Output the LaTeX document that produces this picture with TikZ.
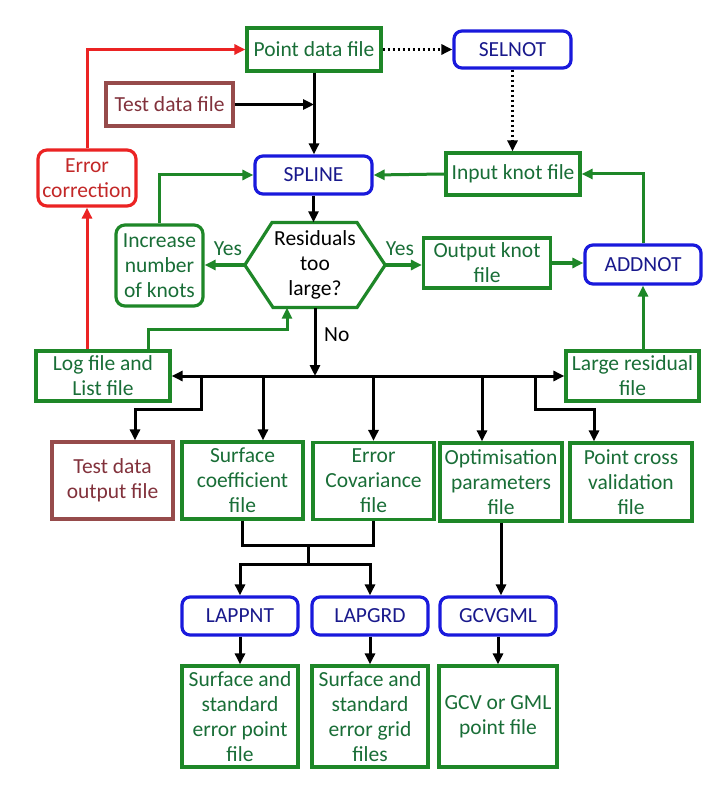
\documentclass[tikz,border=0pt]{standalone}
\usepackage{fontspec}
\setmainfont{Carlito}
\usetikzlibrary{arrows.meta}
\definecolor{gborder}{RGB}{30,135,40}
\definecolor{gtext}{RGB}{25,110,55}
\definecolor{bborder}{RGB}{25,25,220}
\definecolor{btext}{RGB}{25,25,140}
\definecolor{rborder}{RGB}{235,35,35}
\definecolor{rtext}{RGB}{195,40,40}
\definecolor{brborder}{RGB}{150,75,75}
\definecolor{brtext}{RGB}{130,50,60}
\tikzset{
  every node/.style={font=\fontsize{21.5}{25}\selectfont, inner sep=0pt, align=center},
  gbox/.style={draw=gborder, text=gtext, line width=3.2pt},
  bbox/.style={draw=bborder, text=btext, line width=3.2pt, rounded corners=8pt},
  rbox/.style={draw=rborder, text=rtext, line width=3.2pt, rounded corners=9pt},
  brbox/.style={draw=brborder, text=brtext, line width=3.2pt},
  tip/.style={-{Triangle[length=11pt,width=10pt]}},
  kline/.style={draw=black, line width=3pt},
  karrow/.style={kline, tip},
  garrow/.style={draw=gborder, line width=3pt, tip},
  rarrow/.style={draw=rborder, line width=3pt, tip},
}
\begin{document}
\begin{tikzpicture}[x=1pt,y=-1pt]
\useasboundingbox[fill=white] (0,0) rectangle (727,791);
% nodes
\node[gbox, minimum width=134pt, minimum height=43pt] (pdf) at (314,49.5) {Point data file};
\node[bbox, minimum width=117pt, minimum height=37pt] (selnot) at (512.5,49.5) {SELNOT};
\node[brbox, minimum width=127pt, minimum height=43pt] (tdf) at (169.5,104.5) {Test data file};
\node[rbox, minimum width=98pt, minimum height=56pt] (errc) at (87,178) {Error\\correction};
\node[bbox, minimum width=117pt, minimum height=38pt] (spline) at (313.5,175) {SPLINE};
\node[gbox, minimum width=134pt, minimum height=42pt] (ikf) at (513,174) {Input knot file};
\node[gbox, rounded corners=9pt, minimum width=87pt, minimum height=81pt] (inc) at (159.5,265.5) {Increase\\number\\of knots};
\node[minimum width=140pt, minimum height=85pt] (hex) at (315,265) {Residuals\\too\\large?};
\draw[draw=gborder, line width=3.2pt, line join=miter] (hex.west) -- (272,222.5) -- (357,222.5) -- (hex.east) -- (357,307.5) -- (273,307.5) -- cycle;
\node[gbox, minimum width=127pt, minimum height=50pt] (okf) at (487,263) {Output knot\\file};
\node[bbox, minimum width=116pt, minimum height=39pt] (addnot) at (643,264.5) {ADDNOT};
\node[gbox, minimum width=134pt, minimum height=50pt] (log) at (103,376) {Log file and\\List file};
\node[gbox, minimum width=133pt, minimum height=50pt] (lrf) at (632.5,376) {Large residual\\file};
\node[brbox, minimum width=121pt, minimum height=77pt] (tdo) at (112.5,480.5) {Test data\\output file};
\node[gbox, minimum width=121pt, minimum height=77pt] (scf) at (242.5,480.5) {Surface\\coefficient\\file};
\node[gbox, minimum width=121pt, minimum height=77pt] (ecf) at (373.5,481) {Error\\Covariance\\file};
\node[gbox, minimum width=122pt, minimum height=78pt] (opf) at (501,482) {Optimisation\\parameters\\file};
\node[gbox, minimum width=122pt, minimum height=78pt] (pcv) at (631,482) {Point cross\\validation\\file};
\node[bbox, minimum width=116pt, minimum height=38pt] (lappnt) at (240,616) {LAPPNT};
\node[bbox, minimum width=116pt, minimum height=38pt] (lapgrd) at (370,616) {LAPGRD};
\node[bbox, minimum width=116pt, minimum height=38pt] (gcvgml) at (498,616) {GCVGML};
\node[gbox, minimum width=116pt, minimum height=101pt] (sse1) at (240,716.5) {Surface and\\standard\\error point\\file};
\node[gbox, minimum width=116pt, minimum height=101pt] (sse2) at (370,716.5) {Surface and\\standard\\error grid\\files};
\node[gbox, minimum width=118pt, minimum height=101pt] (gcv) at (498,716.5) {GCV or GML\\point file};
% labels
\node[text=gtext] (yl) at (228,249) {Yes};
\node[text=gtext] (yr) at (400,249) {Yes};
\node[anchor=west] (no) at (324,335) {No};
% black connectors
\draw[karrow] (pdf.south) -- (pdf.south |- spline.north);
\draw[karrow] (tdf.east) -- (tdf.east -| pdf.south);
\draw[karrow, dash pattern=on 2.6pt off 2.4pt] (pdf.east) -- (selnot.west);
\draw[karrow, dash pattern=on 2.6pt off 2.4pt] (selnot.south) -- (selnot.south |- ikf.north);
\draw[karrow] (spline.south) -- (spline.south |- hex.north);
% green connectors
\draw[garrow] (ikf.west) -- (spline.east);
\draw[garrow] (addnot.north) |- (ikf.east);
\draw[garrow] (inc.north) |- (spline.west);
\draw[garrow] (hex.west) -- (inc.east |- hex.west);
\draw[garrow] (hex.east) -- (hex.east -| okf.west);
\draw[garrow] (okf.east) -- (okf.east -| addnot.west);
\draw[garrow] (addnot.south |- lrf.north) -- (addnot.south);
\coordinate (lk) at (287,329);
\draw[garrow] (148,0 |- log.north) |- (lk) -- (lk |- hex.south);
% red connectors
\draw[rarrow] (errc.south |- log.north) -- (errc.south);
\draw[rarrow] (errc.north) |- (pdf.west);
% bus
\draw[kline, {Triangle[length=11pt,width=10pt]}-{Triangle[length=11pt,width=10pt]}] (log.east) -- (lrf.west);
\draw[karrow] (hex.south) -- (hex.south |- log.east);
\coordinate (b1) at (201,376);
\coordinate (b5) at (535,376);
\draw[karrow] (b1) -- (201,409) -- (135,409) -- (135,0 |- tdo.north);
\draw[karrow] (263,0 |- log.east) -- (263,0 |- scf.north);
\draw[karrow] (ecf.north |- log.east) -- (ecf.north);
\draw[karrow] (482,0 |- log.east) -- (482,0 |- opf.north);
\draw[karrow] (b5) -- (535,409) -- (594,409) -- (594,0 |- pcv.north);
% lower junction
\coordinate (ja) at (308,545);
\coordinate (jb) at (308,564);
\draw[kline] (scf.south) |- (ja) -| (ecf.south);
\draw[kline] (ja) -- (jb);
\draw[karrow] (jb) -| (lappnt.north);
\draw[karrow] (jb) -| (lapgrd.north);
\draw[karrow] (opf.south) -- (opf.south |- gcvgml.north);
\draw[karrow] (lappnt.south) -- (sse1.north);
\draw[karrow] (lapgrd.south) -- (sse2.north);
\draw[karrow] (gcvgml.south) -- (gcv.north);
\end{tikzpicture}
\end{document}
